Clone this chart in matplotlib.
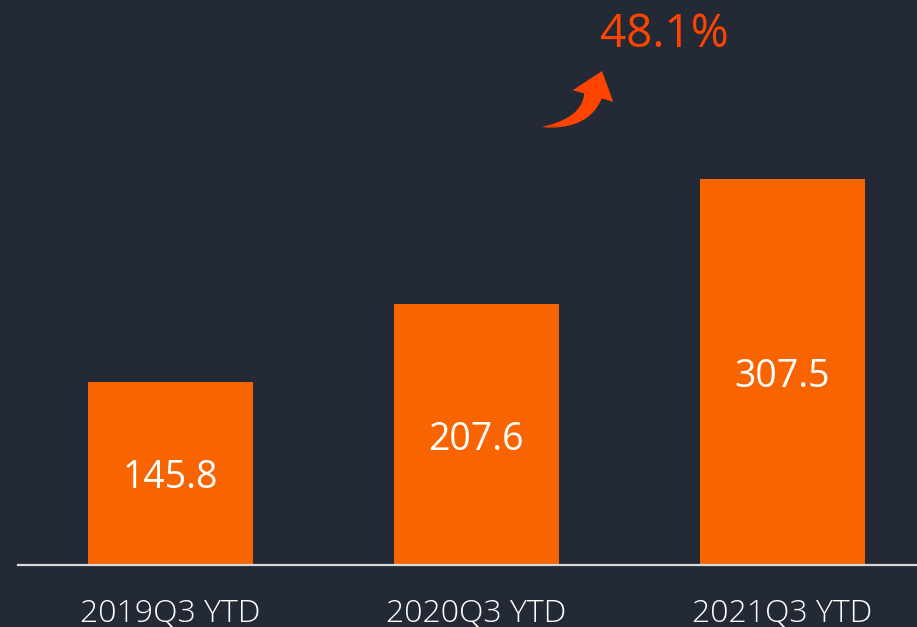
import matplotlib.pyplot as plt
import numpy as np
from matplotlib.patches import Polygon

categories = ["2019Q3 YTD", "2020Q3 YTD", "2021Q3 YTD"]
values = [145.8, 207.6, 307.5]
growth_label = "48.1%"

bg = "#232a35"
bar_color = "#f76400"
accent = "#ff4400"

fig = plt.figure(figsize=(9.17, 6.27), dpi=100, facecolor=bg)
ax = fig.add_axes([18 / 917, 62 / 627, 1 - 18 / 917, 565 / 627])
ax.set_facecolor(bg)

x = np.arange(len(categories))
ax.bar(x, values, width=0.54, color=bar_color, zorder=2)

for xi, v in zip(x, values):
    ax.annotate(f"{v:.1f}", (xi, v / 2), xytext=(0, -3.6), textcoords="offset points",
                ha="center", va="center", color="white", fontsize=27, family="Open Sans")

ax.set_xlim(-0.498, 2.44)
ax.set_ylim(0, 450)

for s in ["top", "right", "left"]:
    ax.spines[s].set_visible(False)
ax.spines["bottom"].set_color("#d9d9d9")
ax.spines["bottom"].set_linewidth(1.6)
ax.set_yticks([])
ax.set_xticks(x)
ax.set_xticklabels(categories, color="white", fontsize=23, family="Open Sans",
                   fontweight="light")
ax.tick_params(axis="x", length=0, pad=24)

# growth annotation
fig.text(664 / 917, 1 - 35 / 627, growth_label, ha="center", va="center",
         color=accent, fontsize=33, family="Open Sans")

# curved arrow: tapering body along a quadratic bezier + triangular head
# (pixel coords, y measured from top)
p0 = np.array([542.0, 127.0])
p1 = np.array([585.0, 124.0])
p2 = np.array([593.0, 96.0])
tip = np.array([602.0, 71.0])
t = np.linspace(0, 1, 40)[:, None]
curve = (1 - t) ** 2 * p0 + 2 * (1 - t) * t * p1 + t ** 2 * p2
deriv = 2 * (1 - t) * (p1 - p0) + 2 * t * (p2 - p1)
norm = np.column_stack([-deriv[:, 1], deriv[:, 0]])
norm /= np.linalg.norm(norm, axis=1)[:, None]
w = 9.0 * t ** 0.8
upper = curve + norm * w
lower = curve - norm * w
d_end = deriv[-1] / np.linalg.norm(deriv[-1])
n_end = norm[-1]
head = [p2 + n_end * 21, tip, p2 - n_end * 21]
pts = np.vstack([upper, head, lower[::-1]])
pts = np.column_stack([pts[:, 0] / 100, (627 - pts[:, 1]) / 100])
fig.patches.append(Polygon(pts, closed=True, facecolor=accent, edgecolor="none",
                           transform=fig.dpi_scale_trans))

fig.savefig("out.png", dpi=100, facecolor=bg)
